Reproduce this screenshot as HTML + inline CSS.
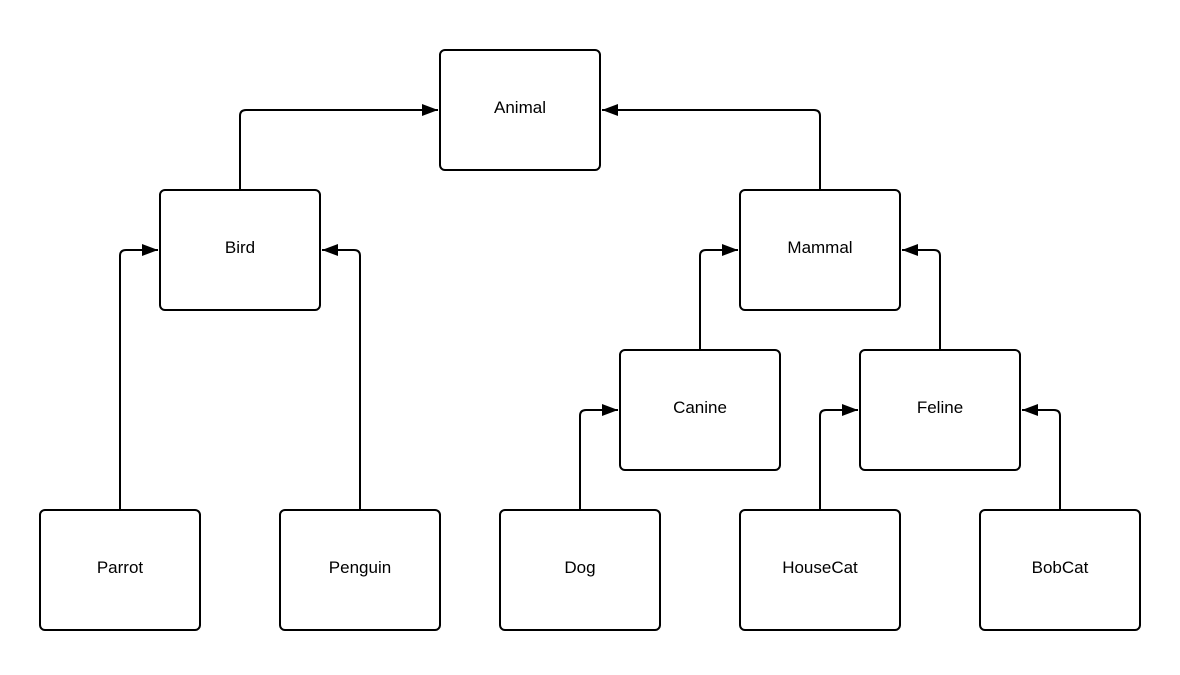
<!DOCTYPE html>
<html><head><meta charset="utf-8"><style>body{margin:0;background:#fff}</style></head><body>
<svg width="1180" height="670" xmlns="http://www.w3.org/2000/svg" font-family="Liberation Sans, sans-serif" font-size="17">
<defs><marker id="a" markerWidth="8" markerHeight="6" refX="8" refY="3" orient="auto" markerUnits="strokeWidth"><path d="M0,0 L8,3 L0,6 z" fill="#000"/></marker></defs>
<g fill="#fff" stroke="#000" stroke-width="2">
<rect x="440" y="50" width="160" height="120" rx="5"/>
<rect x="160" y="190" width="160" height="120" rx="5"/>
<rect x="740" y="190" width="160" height="120" rx="5"/>
<rect x="620" y="350" width="160" height="120" rx="5"/>
<rect x="860" y="350" width="160" height="120" rx="5"/>
<rect x="40" y="510" width="160" height="120" rx="5"/>
<rect x="280" y="510" width="160" height="120" rx="5"/>
<rect x="500" y="510" width="160" height="120" rx="5"/>
<rect x="740" y="510" width="160" height="120" rx="5"/>
<rect x="980" y="510" width="160" height="120" rx="5"/>
</g>
<g fill="none" stroke="#000" stroke-width="2" marker-end="url(#a)">
<path d="M240,190 V116 Q240,110 246,110 H438"/>
<path d="M820,190 V116 Q820,110 814,110 H602"/>
<path d="M120,510 V256 Q120,250 126,250 H158"/>
<path d="M360,510 V256 Q360,250 354,250 H322"/>
<path d="M700,350 V256 Q700,250 706,250 H738"/>
<path d="M940,350 V256 Q940,250 934,250 H902"/>
<path d="M580,510 V416 Q580,410 586,410 H618"/>
<path d="M820,510 V416 Q820,410 826,410 H858"/>
<path d="M1060,510 V416 Q1060,410 1054,410 H1022"/>
</g>
<g text-anchor="middle">
<text x="520" y="113">Animal</text>
<text x="240" y="253">Bird</text>
<text x="820" y="253">Mammal</text>
<text x="700" y="413">Canine</text>
<text x="940" y="413">Feline</text>
<text x="120" y="573">Parrot</text>
<text x="360" y="573">Penguin</text>
<text x="580" y="573">Dog</text>
<text x="820" y="573">HouseCat</text>
<text x="1060" y="573">BobCat</text>
</g>
</svg>
</body></html>
